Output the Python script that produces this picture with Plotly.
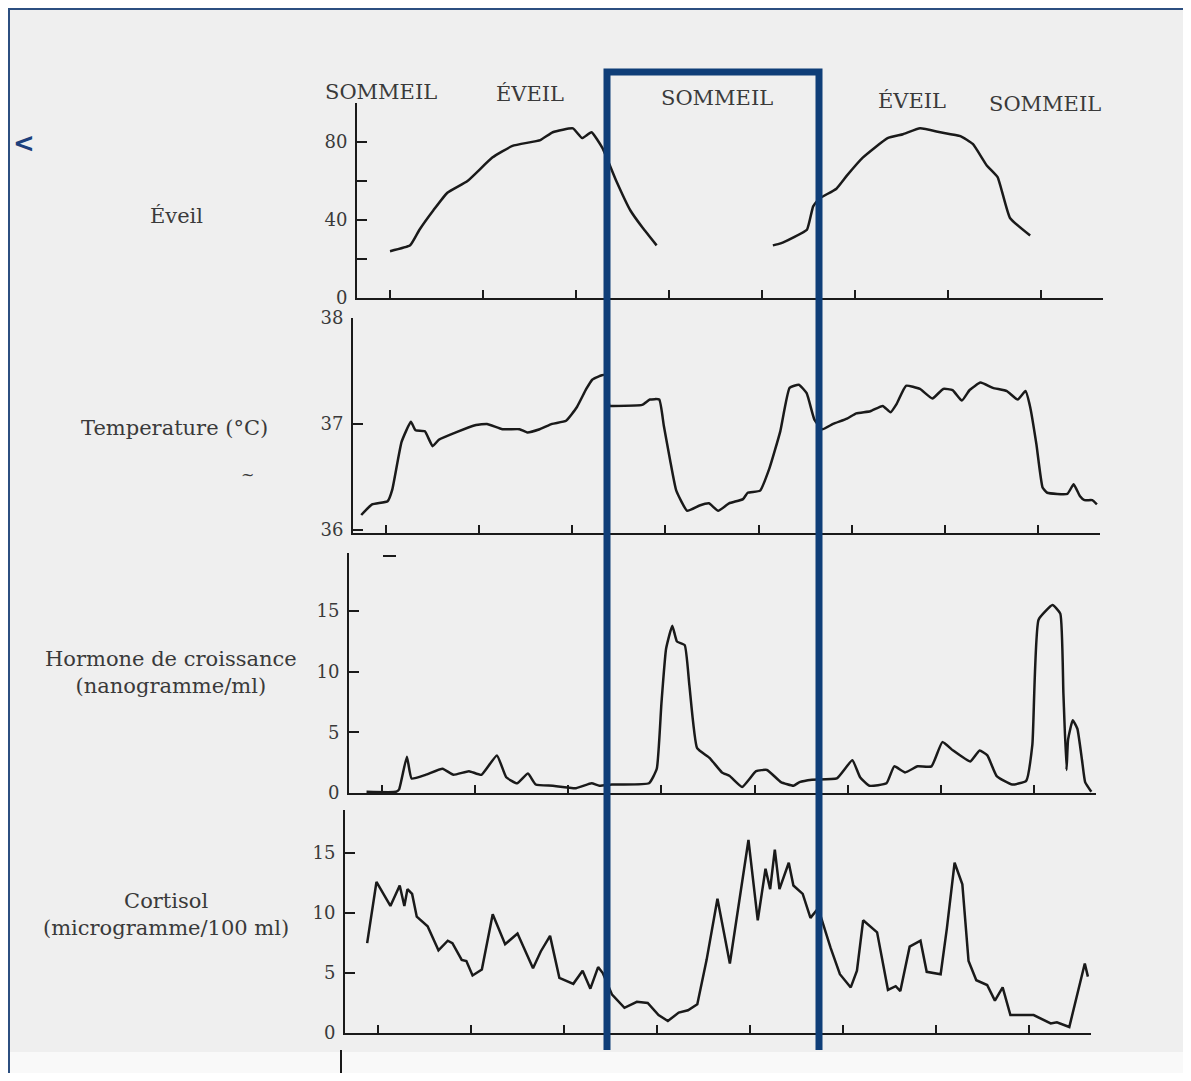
import plotly.graph_objects as go

# temps en heures (une graduation toutes les 6 h)
ticks_h = [0, 6, 12, 18, 24, 30, 36, 42]
phases = ["SOMMEIL", "ÉVEIL", "SOMMEIL", "ÉVEIL", "SOMMEIL"]

# niveau d'eveil (0-100), interruption pendant le sommeil
eveil_h = [0.0, 1.3, 1.9, 2.8, 3.7, 5.0, 6.6, 7.9, 9.7, 10.5, 11.8, 12.4, 13.0, 13.7,
           14.6, 15.5, 16.3, 17.2, None,
           24.7, 25.2, 26.0, 26.9, 27.3, 27.7, 28.8, 29.5, 30.5, 32.1, 33.1, 34.2,
           35.5, 36.8, 37.6, 38.5, 39.2, 40.0, 41.3]
eveil_v = [24, 27, 35, 45, 54, 60, 72, 78, 81, 85, 87, 82, 85, 77,
           60, 45, 36, 27, None,
           27, 28, 31, 35, 47, 51, 56, 63, 72, 82, 84, 87,
           85, 83, 79, 68, 62, 41, 32]

# temperature (°C)
temp_h = [-1.6, -0.9, 0.1, 0.4, 1.0, 1.6, 1.9, 2.5, 3.0, 3.4, 4.5, 5.8, 6.5, 7.5, 8.6,
          9.1, 9.9, 10.7, 11.6, 12.3, 12.9, 13.3, 13.9, 14.1, 14.4, 14.5, 16.5, 17.0,
          17.6, 17.9, 18.3, 18.7, 19.4, 20.2, 20.8, 21.4, 22.1, 23.0, 23.3, 24.1,
          24.7, 25.4, 26.0, 26.6, 27.1, 27.6, 28.1, 28.8, 29.7, 30.3, 31.2, 32.0,
          32.5, 32.9, 33.5, 34.4, 35.2, 35.9, 36.5, 37.1, 37.6, 38.3, 39.1, 40.0,
          40.7, 41.2, 41.5, 41.9, 42.3, 42.6, 43.9, 44.3, 44.7, 45.0, 45.5, 45.8]
temp_v = [36.14, 36.24, 36.27, 36.38, 36.83, 37.02, 36.94, 36.93, 36.79, 36.85, 36.92,
          36.99, 37.00, 36.95, 36.95, 36.92, 36.95, 37.00, 37.03, 37.16, 37.33, 37.42,
          37.46, 37.46, 37.17, 37.17, 37.18, 37.23, 37.23, 36.98, 36.66, 36.37, 36.18,
          36.23, 36.25, 36.18, 36.25, 36.29, 36.35, 36.37, 36.58, 36.93, 37.34, 37.37,
          37.29, 37.04, 36.95, 37.00, 37.05, 37.10, 37.12, 37.17, 37.11, 37.19, 37.36,
          37.33, 37.24, 37.33, 37.32, 37.22, 37.32, 37.39, 37.34, 37.31, 37.23, 37.31,
          37.16, 36.81, 36.40, 36.35, 36.34, 36.43, 36.32, 36.28, 36.28, 36.24]

# hormone de croissance (ng/ml)
gh_h = [-1.0, 0.9, 1.1, 1.6, 1.9, 2.8, 3.9, 4.6, 5.6, 6.4, 7.4, 8.0, 8.7, 9.4, 9.9,
        11.0, 12.5, 13.5, 14.0, 14.8, 17.2, 17.7, 18.0, 18.3, 18.7, 19.0, 19.5, 19.8,
        20.3, 21.1, 21.9, 22.4, 23.2, 24.1, 24.8, 25.7, 26.5, 26.9, 27.7, 29.3, 30.3,
        30.8, 31.4, 32.5, 33.0, 33.7, 34.5, 35.4, 36.1, 36.8, 37.9, 38.5, 39.0, 39.6,
        40.6, 41.5, 41.9, 42.3, 43.2, 43.7, 43.9, 44.1, 44.2, 44.5, 44.8, 45.1, 45.3,
        45.7]
gh_v = [0.1, 0.1, 0.3, 3.0, 1.2, 1.5, 2.0, 1.5, 1.8, 1.5, 3.1, 1.3, 0.8, 1.6, 0.7,
        0.6, 0.4, 0.8, 0.6, 0.7, 0.8, 2.0, 7.4, 11.9, 13.8, 12.5, 12.2, 8.9,
        3.7, 2.9, 1.7, 1.4, 0.5, 1.8, 1.9, 0.9, 0.6, 0.9, 1.1, 1.2, 2.7,
        1.3, 0.6, 0.8, 2.2, 1.7, 2.2, 2.2, 4.2, 3.5, 2.6, 3.5, 3.1, 1.4,
        0.7, 1.0, 4.0, 14.3, 15.5, 14.8, 8.2, 1.9, 4.4, 6.0, 5.3, 2.7, 0.9,
        0.1]

# cortisol (µg/100 ml)
cort_h = [-0.7, -0.1, 0.8, 1.4, 1.7, 1.9, 2.2, 2.5, 3.2, 3.9, 4.5, 4.8, 5.4, 5.7, 6.1,
          6.7, 7.4, 8.2, 9.0, 10.0, 10.5, 11.1, 11.7, 12.6, 13.2, 13.7, 14.2, 14.5,
          15.1, 15.9, 16.7, 17.4, 18.1, 18.7, 19.4, 20.0, 20.6, 21.2, 21.9, 22.7,
          23.9, 24.5, 25.0, 25.3, 25.6, 25.9, 26.5, 26.8, 27.4, 27.9, 28.4, 29.2,
          29.8, 30.5, 30.9, 31.3, 32.2, 32.9, 33.4, 33.7, 34.3, 35.0, 35.4, 36.3,
          36.7, 37.2, 37.7, 38.1, 38.6, 39.3, 39.8, 40.3, 40.8, 42.3, 43.4, 43.8,
          44.6, 45.6, 45.8]
cort_v = [7.5, 12.6, 10.6, 12.3, 10.6, 12.0, 11.6, 9.7, 8.9, 6.9, 7.7, 7.5, 6.1, 6.0, 4.8,
          5.3, 9.9, 7.4, 8.3, 5.4, 6.8, 8.1, 4.6, 4.1, 5.2, 3.7, 5.5, 5.0,
          3.2, 2.1, 2.6, 2.5, 1.5, 1.0, 1.7, 1.9, 2.4, 6.1, 11.2, 5.8,
          16.1, 9.4, 13.7, 12.0, 15.3, 12.0, 14.2, 12.3, 11.6, 9.6, 10.4, 7.1,
          4.9, 3.8, 5.2, 9.4, 8.4, 3.6, 3.9, 3.5, 7.2, 7.7, 5.1, 4.9,
          8.7, 14.2, 12.4, 6.0, 4.4, 4.0, 2.7, 3.8, 1.5, 1.5, 0.8, 0.9,
          0.5, 5.8, 4.7]

# la page html ajoute une marge de 8 px autour du graphique
OFF = 8
W, H = 1191 - OFF, 1081 - 2 * OFF
INK = "#1a1a1a"
TXT = "#3a3a3a"
FONT = "DejaVu Serif"


def px(x):
    return (x - OFF) / W


def py(y):
    return 1 - (y - OFF) / H


fig = go.Figure()

# trace a la main : courbes legerement lissees, sauf le cortisol tres dentele
series = [(eveil_h, eveil_v, "spline"), (temp_h, temp_v, "spline"),
          (gh_h, gh_v, "spline"), (cort_h, cort_v, "linear")]
for i, (xs, ys, shape) in enumerate(series, start=1):
    fig.add_trace(go.Scatter(x=xs, y=ys, mode="lines", connectgaps=False,
                             line=dict(color=INK, width=2.5, shape=shape,
                                       smoothing=0.4 if shape == "spline" else None),
                             xaxis="x" if i == 1 else f"x{i}",
                             yaxis="y" if i == 1 else f"y{i}",
                             showlegend=False, hoverinfo="skip"))

# position des panneaux (le scan est legerement incline)
panels = [
    dict(xd=(357, 1103), yd=(298, 103), yr=[0, 100],
         tv=[0, 20, 40, 60, 80, 100], tt=["0", "", "40", "", "80", ""]),
    dict(xd=(353, 1100), yd=(533, 318), yr=[35.97, 38],
         tv=[36, 37, 38], tt=["36", "37", "38"]),
    dict(xd=(349, 1096), yd=(793, 553), yr=[0, 19.8],
         tv=[0, 5, 10, 15], tt=["0", "5", "10", "15"]),
    dict(xd=(345, 1091), yd=(1033, 810), yr=[0, 18.6],
         tv=[0, 5, 10, 15], tt=["0", "5", "10", "15"]),
]

axes = {}
for i, p in enumerate(panels, start=1):
    xk = "xaxis" if i == 1 else f"xaxis{i}"
    yk = "yaxis" if i == 1 else f"yaxis{i}"
    xa = "x" if i == 1 else f"x{i}"
    ya = "y" if i == 1 else f"y{i}"
    axes[xk] = dict(domain=[px(p["xd"][0]), px(p["xd"][1])], anchor=ya,
                    range=[-2.13, 46.0], showgrid=False, zeroline=False,
                    showline=True, linecolor=INK, linewidth=2, automargin=False,
                    ticks="inside", ticklen=8, tickwidth=2, tickcolor=INK,
                    tickvals=ticks_h, showticklabels=False, fixedrange=True)
    axes[yk] = dict(domain=[py(p["yd"][0]), py(p["yd"][1])], anchor=xa,
                    range=p["yr"], showgrid=False, zeroline=False,
                    showline=True, linecolor=INK, linewidth=2, automargin=False,
                    ticks="inside", ticklen=10, tickwidth=2, tickcolor=INK,
                    tickvals=p["tv"], ticktext=p["tt"], ticklabelstandoff=4,
                    tickfont=dict(family=FONT, size=18, color=TXT), fixedrange=True)

fig.update_layout(**axes)

annots = []
phase_pos = [(381, 92), (530, 94), (717, 98), (912, 101), (1045, 104)]
for lab, (x, y) in zip(phases, phase_pos):
    annots.append(dict(x=px(x), y=py(y), text=lab, font=dict(size=21)))

left_labels = [
    ("Éveil", 176, 216),
    ("Temperature (°C)", 175, 428),
    ("Hormone de croissance<br>(nanogramme/ml)", 171, 672),
    ("Cortisol<br>(microgramme/100 ml)", 166, 914),
]
for lab, x, y in left_labels:
    annots.append(dict(x=px(x), y=py(y), text=lab, font=dict(size=21)))

annots.append(dict(x=px(247), y=py(474), text="~", font=dict(size=16)))
annots.append(dict(x=px(24), y=py(143), text="<b>&lt;</b>",
                   font=dict(size=26, color="#1c3f7c", family="DejaVu Sans")))

for a in annots:
    a.update(xref="paper", yref="paper", showarrow=False,
             xanchor="center", yanchor="middle")
    a["font"].setdefault("family", FONT)
    a["font"].setdefault("color", TXT)

shapes = [
    # cadre de la page
    dict(type="line", xref="paper", yref="paper", x0=0, x1=1, y0=py(9), y1=py(9),
         line=dict(color="#2c4f80", width=2)),
    dict(type="line", xref="paper", yref="paper", x0=px(9), x1=px(9), y0=0, y1=py(9),
         line=dict(color="#2c4f80", width=2)),
    dict(type="rect", xref="paper", yref="paper", x0=px(10), x1=1, y0=0, y1=py(1052),
         fillcolor="#f9f9f9", line_width=0, layer="below"),
    # debut du panneau suivant
    dict(type="line", xref="paper", yref="paper", x0=px(341), x1=px(341),
         y0=0, y1=py(1050), line=dict(color=INK, width=2)),
    # petit trait parasite du scan
    dict(type="line", xref="paper", yref="paper", x0=px(383), x1=px(396),
         y0=py(556), y1=py(556), line=dict(color=INK, width=2)),
    # cadre bleu sur la periode de sommeil
    dict(type="path", xref="paper", yref="paper",
         path=f"M {px(607)},{py(1050)} L {px(607)},{py(72)} "
              f"L {px(819)},{py(72)} L {px(819)},{py(1050)}",
         line=dict(color="#0f3e78", width=7)),
]

fig.update_layout(width=W, height=H, margin=dict(l=0, r=0, t=0, b=0, pad=0),
                  paper_bgcolor="#efefef", plot_bgcolor="rgba(0,0,0,0)",
                  annotations=annots, shapes=shapes, showlegend=False)

fig.write_html("out.html")
